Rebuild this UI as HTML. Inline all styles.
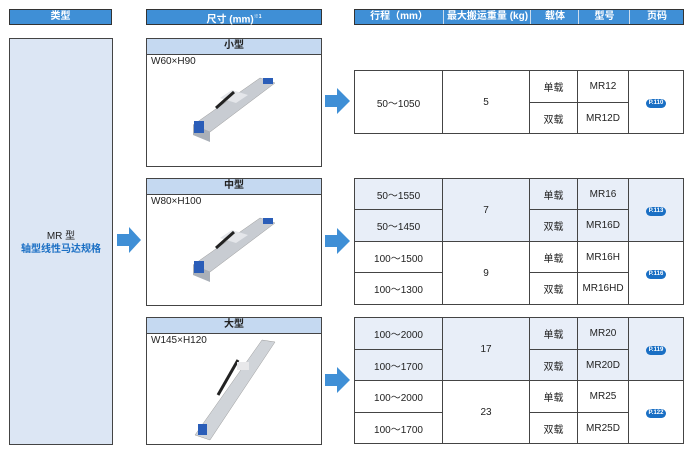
<!DOCTYPE html>
<html><head><meta charset="utf-8"><style>
body{margin:0;width:700px;height:461px;background:#fff;position:relative;font-family:"Liberation Sans","Noto Sans CJK SC",sans-serif;font-size:10px;color:#222;overflow:hidden}
.a{position:absolute;box-sizing:border-box}
.hd{background:#3f8fd6;border:1px solid #333;color:#fff;font-weight:bold;text-align:center;line-height:14px;font-size:10px}
.pan{border:1px solid #444;background:#fff}
.ph{position:absolute;left:0;right:0;top:0;height:15px;background:#c5d9f1;border-bottom:1px solid #444;text-align:center;font-weight:bold;line-height:14px}
.pt{position:absolute;left:4px;top:17px;font-size:10px}
table{position:absolute;border-collapse:collapse;left:354px;width:330px}
td{border:1px solid #444;text-align:center;padding:0;font-size:10px}
.bl td{background:#e8eef8}
.pg{display:inline-block;background:#1a6fc4;color:#fff;font-size:6px;font-weight:bold;border-radius:5px;padding:1px 3px;line-height:7px}
.th{position:absolute;top:0;height:14px;line-height:14px;text-align:center}
</style></head><body>
<div class="a hd" style="left:9px;top:9px;width:103px;height:16px">类型</div>
<div class="a hd" style="left:146px;top:9px;width:176px;height:16px">尺寸 (mm)<sup style="font-size:5px">※1</sup></div>
<div class="a" style="left:354px;top:9px;width:330px;height:16px;background:#3f8fd6;border:1px solid #333;color:#fff;font-weight:bold;font-size:10px">
<span class="th" style="left:0;width:88px">行程（mm）</span>
<span class="th" style="left:88px;width:87px;border-left:1px solid #cde">最大搬运重量 (kg)</span>
<span class="th" style="left:175px;width:48px;border-left:1px solid #cde">载体</span>
<span class="th" style="left:223px;width:51px;border-left:1px solid #cde">型号</span>
<span class="th" style="left:274px;width:54px;border-left:1px solid #cde">页码</span>
</div>
<div class="a" style="left:9px;top:38px;width:104px;height:407px;background:#dce6f4;border:1px solid #444;text-align:center;padding-top:191px;line-height:13px">MR 型<br><b style="color:#1a6fc4">轴型线性马达规格</b></div>
<div class="a pan" style="left:146px;top:38px;width:176px;height:129px"><div class="ph">小型</div><div class="pt">W60×H90</div></div>
<div class="a pan" style="left:146px;top:178px;width:176px;height:128px"><div class="ph">中型</div><div class="pt">W80×H100</div></div>
<div class="a pan" style="left:146px;top:317px;width:176px;height:128px"><div class="ph">大型</div><div class="pt">W145×H120</div></div>
<svg class="a" style="left:0;top:0" width="700" height="461">
<g fill="#3f8fd6">
<polygon points="117,234 129,234 129,227 141,240 129,253 129,246 117,246"/>
<polygon points="325,95 337,95 337,88 350,101 337,114 337,107 325,107"/>
<polygon points="325,235 337,235 337,228 350,241 337,254 337,247 325,247"/>
<polygon points="325,374 337,374 337,367 350,380 337,393 337,386 325,386"/>
</g>
<g id="rail">
<polygon points="193,125 260,78 275,83 210,132" fill="#c8ccd2" stroke="#999" stroke-width="0.5"/>
<polygon points="193,125 210,132 210,142 193,135" fill="#aab0b8"/>
<polygon points="220,98 232,90 248,95 236,103" fill="#e4e6ea"/>
<path d="M216,108 L234,92" stroke="#222" stroke-width="3"/>
<rect x="194" y="121" width="10" height="12" fill="#2a5db8"/>
<rect x="263" y="78" width="10" height="6" fill="#2a5db8"/>
</g>
<use href="#rail" transform="translate(0,140)"/>
<polygon points="195,435 262,340 275,342 210,440" fill="#d0d4d9" stroke="#999" stroke-width="0.5"/>
<path d="M218,395 L238,360" stroke="#222" stroke-width="3"/>
<rect x="237" y="362" width="12" height="8" fill="#e8e8ea"/>
<rect x="198" y="424" width="9" height="11" fill="#2a5db8"/>
</svg>
<table style="top:70px;height:64px">
<tr style="height:32px"><td rowspan="2" style="width:87px">50～1050</td><td rowspan="2" style="width:86px">5</td><td style="width:47px">单载</td><td style="width:50px">MR12</td><td rowspan="2"><span class="pg">P.110</span></td></tr>
<tr><td>双载</td><td>MR12D</td></tr></table>
<table style="top:178px;height:127px">
<tr class="bl" style="height:31px"><td style="width:87px">50～1550</td><td rowspan="2" style="width:86px">7</td><td style="width:47px">单载</td><td style="width:50px">MR16</td><td rowspan="2"><span class="pg">P.113</span></td></tr>
<tr class="bl" style="height:32px"><td>50～1450</td><td>双载</td><td>MR16D</td></tr>
<tr style="height:31px"><td>100～1500</td><td rowspan="2">9</td><td>单载</td><td>MR16H</td><td rowspan="2"><span class="pg">P.116</span></td></tr>
<tr><td>100～1300</td><td>双载</td><td>MR16HD</td></tr></table>
<table style="top:317px;height:127px">
<tr class="bl" style="height:32px"><td style="width:87px">100～2000</td><td rowspan="2" style="width:86px">17</td><td style="width:47px">单载</td><td style="width:50px">MR20</td><td rowspan="2"><span class="pg">P.119</span></td></tr>
<tr class="bl" style="height:31px"><td>100～1700</td><td>双载</td><td>MR20D</td></tr>
<tr style="height:32px"><td>100～2000</td><td rowspan="2">23</td><td>单载</td><td>MR25</td><td rowspan="2"><span class="pg">P.122</span></td></tr>
<tr><td>100～1700</td><td>双载</td><td>MR25D</td></tr></table>
</body></html>
